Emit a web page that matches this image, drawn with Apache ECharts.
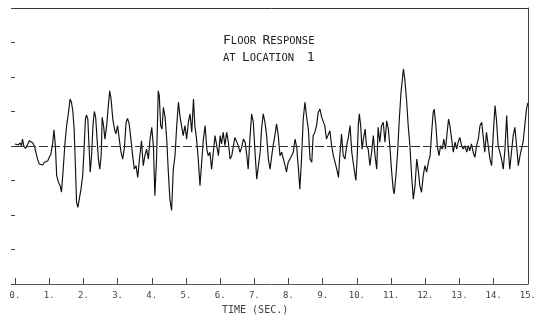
<!DOCTYPE html>
<html>
<head>
<meta charset="utf-8">
<script src="https://cdn.jsdelivr.net/npm/echarts@6/dist/echarts.min.js"></script>
<style>
  html, body { margin: 0; padding: 0; background: #fff; }
  #chart { width: 539px; height: 327px; }
</style>
</head>
<body>
<div id="chart"></div>
<script>
// Floor acceleration record at location 1: [time (s), response] pairs, split by time span.
const response0to4 = [
  [0.00,0.06],[0.05,0.11],[0.10,0.03],[0.15,0.09],[0.19,0.01],[0.22,0.20],[0.26,-0.01],[0.31,-0.07],
  [0.36,0.03],[0.42,0.15],[0.47,0.11],[0.52,0.09],[0.57,-0.01],[0.61,-0.18],[0.66,-0.38],[0.71,-0.52],
  [0.76,-0.47],[0.81,-0.55],[0.86,-0.47],[0.91,-0.52],[0.96,-0.43],[1.00,-0.33],[1.05,-0.23],[1.10,0.06],
  [1.14,0.47],[1.18,0.01],[1.22,-0.86],[1.27,-1.05],[1.32,-1.15],[1.36,-1.34],[1.41,-0.67],[1.46,0.06],
  [1.51,0.59],[1.56,0.93],[1.61,1.36],[1.65,1.27],[1.69,1.02],[1.73,0.49],[1.77,-0.67],[1.80,-1.63],
  [1.84,-1.78],[1.88,-1.54],[1.93,-1.25],[1.98,-0.86],[2.02,-0.09],[2.06,0.78],[2.09,0.90],[2.13,0.78],
  [2.16,0.11],[2.20,-0.76],[2.24,-0.28],[2.28,0.59],[2.32,1.00],[2.36,0.83],[2.40,0.20],[2.44,-0.38],
  [2.48,-0.67],[2.52,-0.28],[2.55,0.83],[2.59,0.59],[2.63,0.20],[2.68,0.59],[2.73,1.17],[2.77,1.60],
  [2.81,1.36],[2.86,0.78],[2.91,0.49],[2.95,0.35],[3.00,0.59],[3.05,0.20],[3.10,-0.18],[3.15,-0.38],
  [3.20,-0.04],[3.25,0.69],[3.29,0.80],[3.34,0.64],[3.39,0.20],[3.44,-0.28],[3.49,-0.67],[3.54,-0.57],
  [3.59,-0.91],[3.64,-0.38]
];
const response4to8 = [
  [3.70,0.15],[3.75,-0.57],[3.80,-0.28],[3.85,-0.09],[3.90,-0.38],[3.95,0.20],[4.00,0.54],[4.05,-0.04],
  [4.09,-1.44],[4.14,-0.38],[4.19,1.60],[4.22,1.46],[4.26,0.59],[4.30,0.49],[4.34,1.12],[4.39,0.83],
  [4.44,0.15],[4.48,-0.67],[4.53,-1.54],[4.58,-1.87],[4.63,-0.67],[4.68,-0.28],[4.73,0.59],[4.78,1.27],
  [4.83,0.83],[4.87,0.59],[4.92,0.30],[4.97,0.59],[5.02,0.20],[5.07,0.69],[5.12,0.93],[5.17,0.40],
  [5.22,1.36],[5.26,0.59],[5.31,0.20],[5.36,-0.38],[5.41,-1.15],[5.46,-0.47],[5.51,0.20],[5.56,0.59],
  [5.61,-0.09],[5.65,-0.28],[5.70,-0.18],[5.75,-0.67],[5.80,-0.18],[5.85,0.30],[5.90,0.01],[5.95,-0.28],
  [6.00,0.30],[6.04,0.06],[6.09,0.40],[6.14,0.01],[6.19,0.40],[6.24,0.11],[6.29,-0.38],[6.34,-0.28],
  [6.39,0.01],[6.43,0.25],[6.48,0.20],[6.53,0.01],[6.58,-0.18],[6.63,-0.04],[6.68,0.20],[6.73,0.11],
  [6.78,-0.28],[6.82,-0.67],[6.87,0.20],[6.92,0.93],[6.97,0.69],[7.02,-0.18],[7.07,-0.96],[7.12,-0.57],
  [7.17,-0.18],[7.21,0.49],[7.26,0.93],[7.31,0.69],[7.36,0.30],[7.41,-0.38],[7.46,-0.67],[7.51,-0.28]
];
const response8to11 = [
  [7.55,0.01],[7.60,0.30],[7.65,0.64],[7.70,0.30],[7.75,-0.28],[7.80,-0.18],[7.85,-0.38],[7.90,-0.57],
  [7.94,-0.76],[7.99,-0.47],[8.04,-0.38],[8.09,-0.28],[8.14,-0.18],[8.19,0.20],[8.24,-0.04],[8.29,-0.67],
  [8.33,-1.25],[8.38,-0.38],[8.43,0.78],[8.48,1.27],[8.53,0.83],[8.58,0.49],[8.63,-0.38],[8.68,-0.47],
  [8.72,0.30],[8.77,0.40],[8.82,0.59],[8.87,0.98],[8.92,1.07],[8.97,0.83],[9.02,0.88],[9.06,0.59],
  [9.11,0.20],[9.16,0.25],[9.21,0.44],[9.26,0.01],[9.31,-0.28],[9.36,-0.47],[9.41,-0.67],[9.46,-0.91],
  [9.50,-0.28],[9.55,0.35],[9.60,-0.28],[9.65,-0.38],[9.70,0.01],[9.75,0.25],[9.80,0.59],[9.85,-0.18],
  [9.89,-0.47],[9.94,-0.81],[9.97,-1.00],[10.01,-0.28],[10.04,0.59],[10.07,0.93],[10.11,0.59],[10.15,-0.09],
  [10.19,0.20],[10.24,0.49],[10.28,0.01],[10.33,-0.09],[10.38,-0.57],[10.43,-0.18],[10.48,0.30],[10.53,-0.28],
  [10.58,-0.67],[10.62,0.54],[10.67,0.11],[10.72,0.59],[10.77,0.69],[10.82,0.11],[10.87,0.73],[10.92,0.49],
  [10.97,-0.09],[11.01,-0.67],[11.06,-1.25],[11.09,-1.39],[11.14,-0.86],[11.19,-0.18],[11.24,0.78],[11.29,1.56]
];
const response11to15 = [
  [11.31,1.75],[11.36,2.23],[11.40,1.94],[11.45,1.36],[11.50,0.59],[11.55,0.01],[11.60,-0.86],[11.65,-1.54],
  [11.70,-1.15],[11.75,-0.38],[11.79,-0.67],[11.84,-1.15],[11.89,-1.34],[11.94,-0.86],[11.99,-0.57],[12.04,-0.76],
  [12.09,-0.47],[12.14,-0.28],[12.18,0.30],[12.23,0.98],[12.26,1.07],[12.31,0.59],[12.35,0.01],[12.40,-0.28],
  [12.45,0.01],[12.50,-0.09],[12.54,0.20],[12.59,-0.09],[12.64,0.40],[12.68,0.78],[12.72,0.59],[12.77,0.20],
  [12.82,-0.18],[12.87,0.11],[12.92,-0.09],[12.96,0.11],[13.01,0.25],[13.06,0.01],[13.11,-0.09],[13.16,0.01],
  [13.21,-0.18],[13.26,0.01],[13.30,-0.14],[13.35,0.06],[13.40,-0.18],[13.45,-0.33],[13.50,0.01],[13.55,0.20],
  [13.60,0.59],[13.65,0.69],[13.69,0.30],[13.74,-0.18],[13.79,0.40],[13.84,0.01],[13.89,-0.38],[13.94,-0.57],
  [13.99,0.40],[14.04,1.17],[14.08,0.78],[14.13,0.01],[14.18,-0.18],[14.23,-0.38],[14.28,-0.67],[14.33,-0.09],
  [14.38,0.88],[14.42,0.01],[14.47,-0.67],[14.52,-0.18],[14.57,0.30],[14.62,0.54],[14.67,0.01],[14.72,-0.57],
  [14.77,-0.28],[14.81,-0.09],[14.86,0.11],[14.91,0.59],[14.96,1.07],[15.00,1.25]
];

// Axis ranges and labels
const timeRange = [0, 15];
const timeStep = 1;
const responseRange = [-4, 4];
const responseStep = 1;
const titleLines = ['{b|F}{s|LOOR} {b|R}{s|ESPONSE}', '{s|AT} {b|L}{s|OCATION}  {b|1}'];
const timeAxisTitle = 'TIME (SEC.)';

const mono = 'DejaVu Sans Mono';
const record = [].concat(response0to4, response4to8, response8to11, response11to15);

const chart = echarts.init(document.getElementById('chart'), null, { renderer: 'canvas' });
chart.setOption({
  backgroundColor: '#ffffff',
  animation: false,
  grid: { left: 15, right: 11, top: 8, bottom: 43 },
  title: {
    text: titleLines.join('\n'),
    left: 223,
    top: 30,
    padding: 0,
    textStyle: {
      fontFamily: mono,
      fontSize: 10.5,
      fontWeight: 'normal',
      color: '#222',
      lineHeight: 17,
      rich: {
        b: { fontFamily: mono, fontSize: 13, color: '#222', lineHeight: 17, verticalAlign: 'bottom' },
        s: { fontFamily: mono, fontSize: 10.5, color: '#222', lineHeight: 17, verticalAlign: 'bottom' }
      }
    }
  },
  graphic: [{
    type: 'text',
    left: 222,
    top: 305,
    style: { text: timeAxisTitle, font: '10px "DejaVu Sans Mono"', fill: '#444' }
  }],
  xAxis: [{
    type: 'value',
    min: timeRange[0],
    max: timeRange[1],
    interval: timeStep,
    position: 'bottom',
    axisLine: { show: true, onZero: false, lineStyle: { color: '#555', width: 1 } },
    axisTick: { show: true, inside: true, length: 6, lineStyle: { color: '#444' } },
    axisLabel: {
      formatter: v => v + '.',
      fontFamily: mono,
      fontSize: 9,
      color: '#444',
      margin: 7
    },
    splitLine: { show: false }
  }, {
    type: 'value',
    min: timeRange[0],
    max: timeRange[1],
    position: 'top',
    axisLine: { show: true, onZero: false, lineStyle: { color: '#333', width: 1 } },
    axisTick: { show: false },
    axisLabel: { show: false },
    splitLine: { show: false }
  }],
  yAxis: [{
    type: 'value',
    min: responseRange[0],
    max: responseRange[1],
    interval: responseStep,
    position: 'left',
    axisLine: { show: false, onZero: false, lineStyle: { opacity: 0 } },
    axisTick: { show: true, length: 4, lineStyle: { color: '#444' } },
    axisLabel: { show: false },
    splitLine: { show: false }
  }, {
    type: 'value',
    min: responseRange[0],
    max: responseRange[1],
    position: 'right',
    axisLine: { show: true, onZero: false, lineStyle: { color: '#444', width: 1 } },
    axisTick: { show: false },
    axisLabel: { show: false },
    splitLine: { show: false }
  }],
  series: [{
    type: 'line',
    xAxisIndex: 0,
    yAxisIndex: 0,
    data: record,
    showSymbol: false,
    smooth: false,
    lineStyle: { color: '#111', width: 1.15 },
    markLine: {
      silent: true,
      symbol: 'none',
      label: { show: false },
      lineStyle: { color: '#333', type: [9, 3], width: 1 },
      data: [{ yAxis: 0 }]
    }
  }]
});
</script>
</body>
</html>
